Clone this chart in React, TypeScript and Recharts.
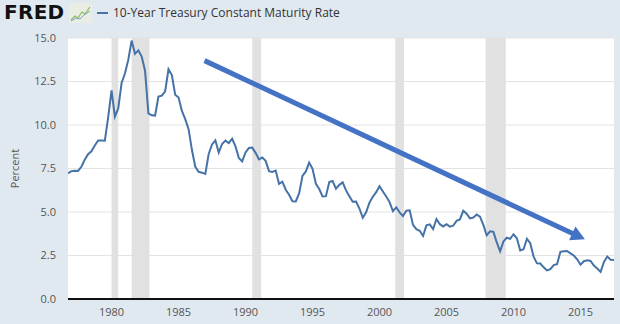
import React from "react";
import {
  LineChart,
  Line,
  XAxis,
  YAxis,
  CartesianGrid,
  ReferenceArea,
  ReferenceLine,
} from "recharts";

// quarterly averages, first point is 1976 Q4
const firstQuarter = 1976.75;
const rates1970s = [7.22, 7.35, 7.37, 7.36, 7.6, 8.01, 8.32, 8.49, 8.82, 9.11, 9.11, 9.1, 10.45];
const rates1980s = [
  11.99, 10.48, 10.95, 12.42, 12.96, 13.75, 14.85, 14.09, 14.29, 13.93, 13.12, 10.67,
  10.56, 10.54, 11.63, 11.69, 11.94, 13.2, 12.87, 11.74, 11.58, 10.81, 10.34, 9.76,
  8.56, 7.6, 7.31, 7.26, 7.19, 8.34, 8.88, 9.12, 8.42, 8.91, 9.1, 8.96, 9.21, 8.77, 8.11, 7.91,
];
const rates1990s = [
  8.42, 8.68, 8.7, 8.4, 8.02, 8.13, 7.94, 7.35, 7.3, 7.38, 6.62, 6.74, 6.28, 5.99, 5.62, 5.61,
  6.07, 7.08, 7.33, 7.84, 7.48, 6.62, 6.32, 5.89, 5.91, 6.72, 6.78, 6.34, 6.56, 6.7, 6.24, 5.91,
  5.59, 5.6, 5.2, 4.67, 4.98, 5.54, 5.88, 6.14,
];
const rates2000s = [
  6.48, 6.18, 5.89, 5.57, 5.05, 5.27, 4.98, 4.77, 5.08, 5.1, 4.26, 4.01, 3.92, 3.62, 4.23, 4.29,
  4.02, 4.6, 4.3, 4.17, 4.3, 4.16, 4.21, 4.49, 4.57, 5.07, 4.9, 4.63, 4.68, 4.85, 4.73, 4.26,
  3.66, 3.89, 3.86, 3.25, 2.74, 3.31, 3.52, 3.46,
];
const rates2010s = [
  3.72, 3.49, 2.79, 2.86, 3.46, 3.21, 2.43, 2.05, 2.04, 1.82, 1.64, 1.71, 1.95, 2.0, 2.71, 2.75,
  2.76, 2.62, 2.5, 2.28, 1.97, 2.17, 2.22, 2.19, 1.92, 1.75, 1.56, 2.13, 2.44, 2.26, 2.24,
];

const yearTicks = [1980, 1985, 1990, 1995, 2000, 2005, 2010, 2015];
const percentTicks = [0, 2.5, 5, 7.5, 10, 12.5, 15];

const recessionStarts = [1980.0, 1981.5, 1990.5, 2001.17, 2007.92];
const recessionEnds = [1980.5, 1982.83, 1991.17, 2001.83, 2009.42];

const arrowStart = { x: 1986.94, y: 13.7 };
const arrowEnd = { x: 2015.33, y: 3.43 };

const allRates = [...rates1970s, ...rates1980s, ...rates1990s, ...rates2000s, ...rates2010s];
const data = allRates.map((rate, i) => ({ date: firstQuarter + i * 0.25, rate }));

const ARROW = "#4472c4";

const ArrowShape = (props: any) => {
  const { x1, y1, x2, y2 } = props;
  const len = Math.hypot(x2 - x1, y2 - y1);
  const ux = (x2 - x1) / len;
  const uy = (y2 - y1) / len;
  const head = 14;
  const half = 7.5;
  const bx = x2 - ux * head;
  const by = y2 - uy * head;
  return (
    <g>
      <line x1={x1} y1={y1} x2={bx + ux} y2={by + uy} stroke={ARROW} strokeWidth={5} />
      <polygon
        points={`${x2},${y2} ${bx - uy * half},${by + ux * half} ${bx + uy * half},${by - ux * half}`}
        fill={ARROW}
      />
    </g>
  );
};

const font = "'Open Sans', sans-serif";

export default function App() {
  return (
    <div
      style={{
        position: "absolute",
        left: 0,
        top: 0,
        width: 620,
        height: 324,
        background: "#e1e9f0",
        fontFamily: font,
        overflow: "hidden",
      }}
    >
      <div
        style={{
          position: "absolute",
          left: 4,
          top: 0,
          fontFamily: "'DejaVu Sans', sans-serif",
          fontWeight: 900,
          fontSize: 20,
          letterSpacing: 0.3,
          color: "#111",
        }}
      >
        FRED
      </div>
      <svg style={{ position: "absolute", left: 69, top: 3 }} width={23} height={20}>
        <rect x={0} y={0} width={23} height={20} fill="#e9ede4" />
        <polyline points="2,17 6,13 9,15 13,9 16,11 21,4" fill="none" stroke="#8cbf5a" strokeWidth={1.2} />
        <polyline points="2,18 7,15 11,16 15,12 21,8" fill="none" stroke="#7da3c8" strokeWidth={1} />
      </svg>
      <div
        style={{ position: "absolute", left: 97, top: 12, width: 11, height: 2, background: "#4572a7" }}
      />
      <div
        style={{ position: "absolute", left: 113, top: 4, fontSize: 12, color: "#333", whiteSpace: "nowrap" }}
      >
        10-Year Treasury Constant Maturity Rate
      </div>
      <LineChart
        width={620}
        height={324}
        data={data}
        margin={{ top: 38, right: 6, bottom: 0, left: 0 }}
        style={{ fontFamily: font }}
      >
        <CartesianGrid
          vertical={false}
          stroke="#e3e3e3"
          fill="#ffffff"
          fillOpacity={1}
          horizontalValues={percentTicks}
        />
        {recessionStarts.map((start, i) => (
          <ReferenceArea
            key={start}
            x1={start}
            x2={recessionEnds[i]}
            y1={0}
            y2={15}
            fill="#e1e1e1"
            fillOpacity={1}
            stroke="none"
          />
        ))}
        <XAxis
          dataKey="date"
          type="number"
          domain={[firstQuarter, 2017.5]}
          ticks={yearTicks}
          allowDataOverflow
          height={25}
          tickLine={false}
          tickMargin={3}
          axisLine={{ stroke: "#111", strokeWidth: 2 }}
          tick={{ fill: "#555", fontSize: 11 }}
        />
        <YAxis
          type="number"
          domain={[0, 15]}
          ticks={percentTicks}
          tickFormatter={(v: number) => v.toFixed(1)}
          width={68}
          axisLine={false}
          tickLine={false}
          tickMargin={6}
          tick={{ fill: "#555", fontSize: 11 }}
          label={{
            value: "Percent",
            angle: -90,
            position: "insideLeft",
            offset: 15,
            style: { textAnchor: "middle", fill: "#555", fontSize: 11 },
          }}
        />
        <Line
          type="linear"
          dataKey="rate"
          stroke="#4572a7"
          strokeWidth={2}
          dot={false}
          isAnimationActive={false}
        />
        <ReferenceLine
          segment={[arrowStart, arrowEnd]}
          shape={ArrowShape}
          ifOverflow="visible"
        />
      </LineChart>
    </div>
  );
}
